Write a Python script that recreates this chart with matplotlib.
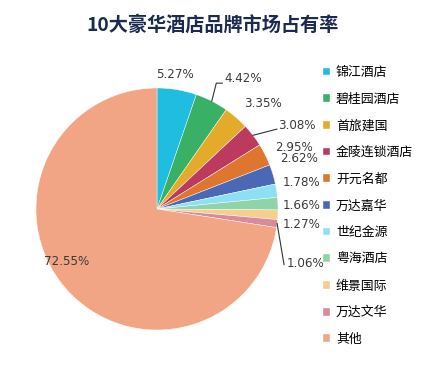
import numpy as np
import matplotlib
matplotlib.use("Agg")
import matplotlib.pyplot as plt

plt.rcParams['font.family'] = ['Noto Sans CJK SC', 'DejaVu Sans']

# data
title = "10大豪华酒店品牌市场占有率"
brands = ["锦江酒店", "碧桂园酒店", "首旅建国", "金陵连锁酒店", "开元名都",
          "万达嘉华", "世纪金源", "粤海酒店", "维景国际", "万达文华", "其他"]
shares = [5.27, 4.42, 3.35, 3.08, 2.95, 2.62, 1.78, 1.66, 1.27, 1.06, 72.55]
colors = ["#1fbde0", "#38b066", "#e4aa2a", "#bc3a5e", "#df7630", "#4a68b6",
          "#8ddff4", "#8fd3a8", "#f5cf8e", "#d98a9b", "#f2a585"]

# label text anchors (pie radius units) and leader line bends
label_pos = [(-0.01, 1.11), (0.56, 1.08), (0.72, 0.875), (1.00, 0.69), (0.975, 0.51),
             (1.02, 0.42), (1.04, 0.215), (1.04, 0.03), (1.04, -0.13), (1.07, -0.45),
             (-0.93, -0.43)]
leaders = {1: [(0.49, 1.04), (0.54, 1.04)],
           3: [(0.99, 0.66)],
           9: [(1.05, -0.46)]}

fig = plt.figure(figsize=(4.24, 3.8), dpi=100)
cx, cy, r = 157, 209, 121
ax = fig.add_axes([(cx - r) / 424, 1 - (cy + r) / 380, 2 * r / 424, 2 * r / 380])
wedges, _ = ax.pie(shares, colors=colors, startangle=90, counterclock=False,
                   radius=1, wedgeprops=dict(edgecolor='white', linewidth=0.3))
ax.set_xlim(-1, 1)
ax.set_ylim(-1, 1)
ax.axis('off')

for i, (w, v) in enumerate(zip(wedges, shares)):
    x, y = label_pos[i]
    ax.text(x, y, f"{v:.2f}%", fontsize=8.6, color="#3a3a3a", family='DejaVu Sans',
            ha='left', va='center', clip_on=False)
    if i in leaders:
        ang = np.deg2rad((w.theta1 + w.theta2) / 2)
        pts = [(np.cos(ang), np.sin(ang))] + leaders[i]
        xs, ys = zip(*pts)
        ax.plot(xs, ys, color="#333333", lw=0.8, clip_on=False)

fig.text(213 / 424, 1 - 25 / 380, title, fontsize=13.8, fontweight='bold',
         color="#1b2a50", ha='center', va='center')

fig.legend(wedges, brands, loc='upper left', bbox_to_anchor=(323 / 424, 1 - 66 / 380),
           frameon=False, fontsize=9.3, handlelength=0.55, handleheight=0.55,
           handletextpad=0.45, labelspacing=1.06, borderaxespad=0, borderpad=0)

fig.savefig("out.png", dpi=100)
